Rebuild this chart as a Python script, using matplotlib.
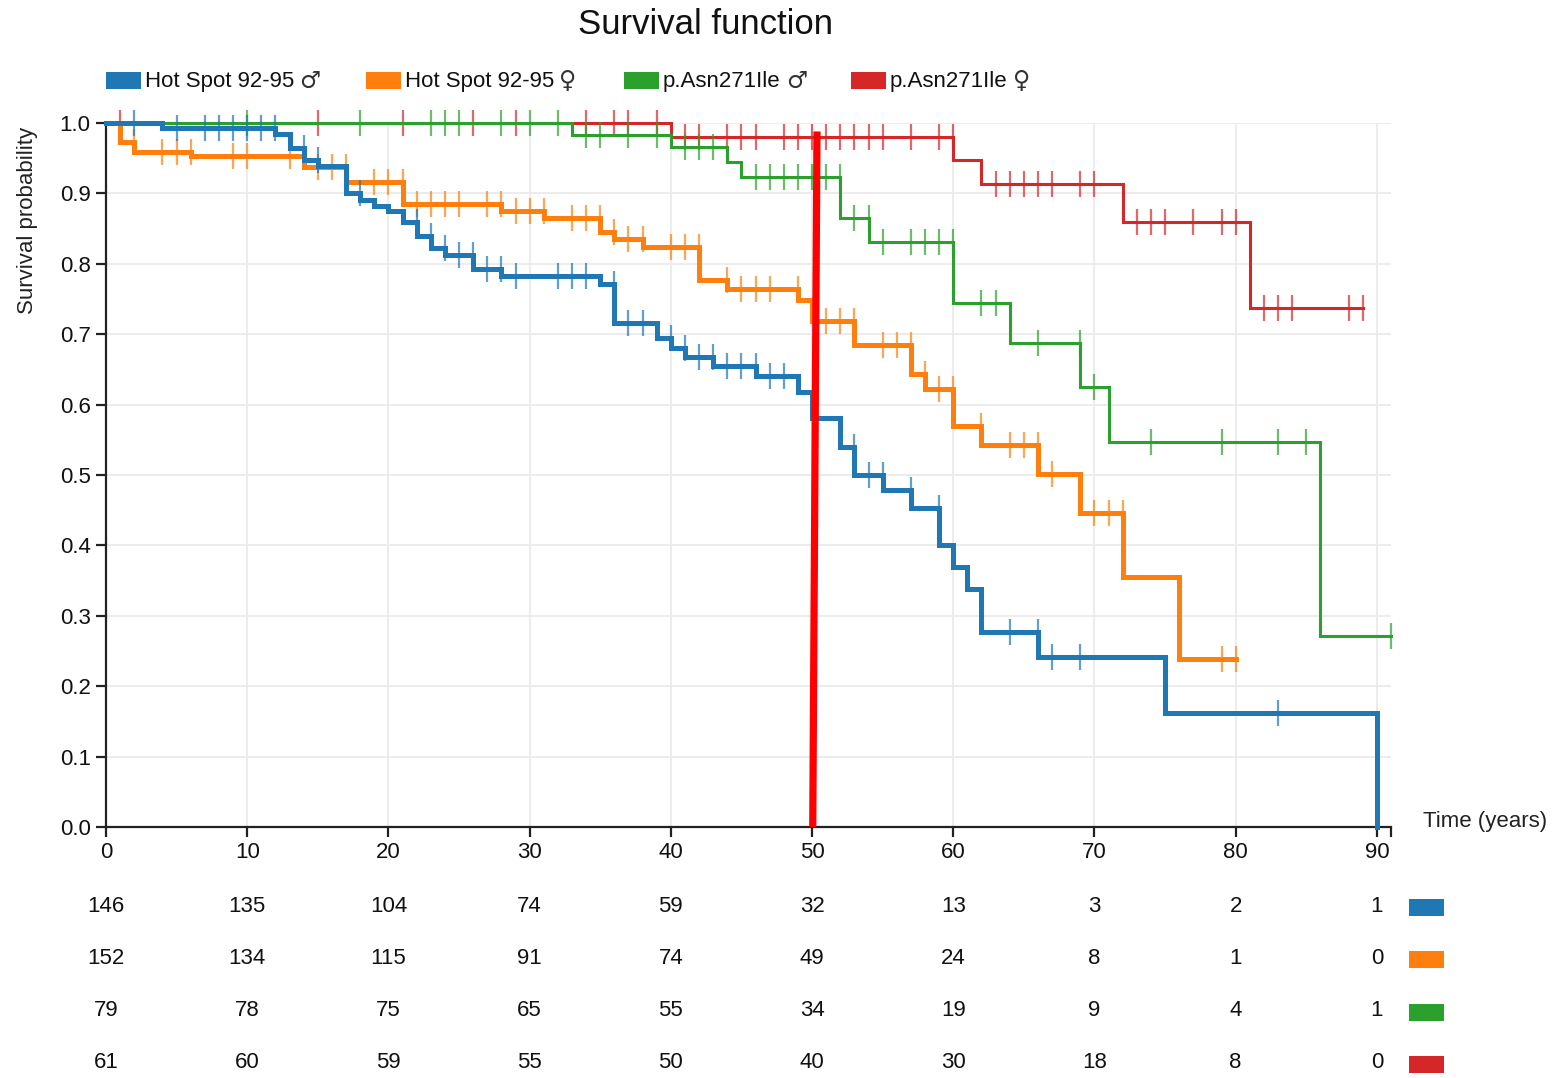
import numpy as np
import matplotlib
matplotlib.use("Agg")
import matplotlib.pyplot as plt
from matplotlib.patches import Rectangle
from matplotlib.transforms import blended_transform_factory

plt.rcParams['font.family'] = ['Liberation Sans', 'DejaVu Sans']

# ---------------- data ----------------
series_labels = ["Hot Spot 92-95 \u2642", "Hot Spot 92-95 \u2640",
                 "p.Asn271Ile \u2642", "p.Asn271Ile \u2640"]
colors = ["#1f77b4", "#ff7f0e", "#2ca02c", "#d62728"]

blue_times = [0, 4, 12, 13, 14, 15, 17, 18, 19, 20, 21, 22, 23, 24, 26, 28, 35, 36, 39, 40,
              41, 43, 46, 49, 50, 52, 53, 55, 57, 59, 60, 61, 62, 66, 75, 90]
blue_surv = [1.0, 0.993, 0.985, 0.964, 0.947, 0.939, 0.900, 0.891, 0.882, 0.875, 0.859,
             0.840, 0.822, 0.8125, 0.793, 0.783, 0.772, 0.7155, 0.694, 0.680, 0.668, 0.655,
             0.640, 0.618, 0.5805, 0.540, 0.500, 0.479, 0.453, 0.400, 0.369, 0.338, 0.2775,
             0.242, 0.1615, 0.0]
blue_censor = [2, 5, 7, 8, 9, 10, 11, 12, 14, 15, 18, 22, 23, 24, 25, 26, 27, 28, 29, 32, 33,
               34, 36, 37, 38, 40, 41, 42, 43, 44, 45, 46, 47, 48, 53, 54, 55, 57, 59, 64, 66,
               67, 69, 83]

orange_times = [0, 1, 2, 6, 14, 17, 21, 28, 31, 35, 36, 38, 42, 44, 49, 50, 53, 57, 58, 60,
                62, 66, 69, 72, 76]
orange_surv = [1.0, 0.9735, 0.959, 0.9536, 0.938, 0.9157, 0.8845, 0.8745, 0.8655, 0.845,
               0.835, 0.8245, 0.777, 0.7635, 0.749, 0.7187, 0.6847, 0.643, 0.6217, 0.5696,
               0.5426, 0.5012, 0.4456, 0.3556, 0.238]
orange_censor = [2, 4, 5, 6, 9, 10, 13, 15, 16, 17, 19, 20, 21, 22, 23, 24, 25, 27, 28, 29,
                 30, 31, 33, 34, 35, 36, 37, 38, 40, 41, 42, 44, 45, 46, 47, 49, 51, 52, 53,
                 55, 56, 57, 58, 59, 60, 62, 64, 65, 66, 67, 70, 71, 72, 79, 80]

green_times = [0, 33, 40, 44, 45, 52, 54, 60, 64, 69, 71, 86]
green_surv = [1.0, 0.983, 0.9655, 0.945, 0.9237, 0.8646, 0.8314, 0.7444, 0.687, 0.6255,
              0.5464, 0.2717]
green_censor = [10, 18, 23, 24, 25, 28, 30, 32, 34, 35, 37, 39, 41, 42, 43, 46, 47, 48, 49,
                50, 51, 52, 53, 54, 55, 57, 58, 59, 60, 62, 63, 66, 69, 70, 74, 79, 83, 85, 91]

red_times = [0, 40, 60, 62, 72, 81]
red_surv = [1.0, 0.980, 0.947, 0.9134, 0.860, 0.7367]
red_censor = [1, 15, 21, 26, 29, 34, 36, 37, 39, 41, 42, 44, 45, 46, 48, 49, 50, 51, 52, 53,
              54, 55, 57, 59, 60, 63, 64, 65, 66, 67, 69, 70, 73, 74, 75, 77, 79, 80, 82, 83,
              84, 88, 89]

risk_times = [0, 10, 20, 30, 40, 50, 60, 70, 80, 90]
risk_blue = [146, 135, 104, 74, 59, 32, 13, 3, 2, 1]
risk_orange = [152, 134, 115, 91, 74, 49, 24, 8, 1, 0]
risk_green = [79, 78, 75, 65, 55, 34, 19, 9, 4, 1]
risk_red = [61, 60, 59, 55, 50, 40, 30, 18, 8, 0]

marker_time = 50

# ---------------- figure ----------------
W, H = 1552, 1078
fig = plt.figure(figsize=(W / 100, H / 100), dpi=100)
ax = fig.add_axes([106 / W, 1 - 827 / H, (1391 - 106) / W, (827 - 123) / H])

ax.set_xlim(0, 91)
ax.set_ylim(0, 1)
ax.set_xticks(risk_times)
ax.set_yticks(np.round(np.arange(0, 1.01, 0.1), 1))
ax.set_yticklabels([f"{v:.1f}" for v in np.arange(0, 1.01, 0.1)])
ax.set_xticks([91], minor=True)
ax.tick_params(axis='x', which='minor', length=7, width=1.6, color='#222222')
ax.tick_params(axis='both', which='major', length=7, width=1.6, color='#222222',
               labelsize=16, labelcolor='#111111')
ax.tick_params(axis='x', pad=4)
ax.tick_params(axis='y', pad=4)
ax.grid(True, color='#ebebeb', linewidth=1.3)
ax.set_axisbelow(True)
for s in ['top', 'right']:
    ax.spines[s].set_visible(False)
for s in ['left', 'bottom']:
    ax.spines[s].set_color('#222222')
    ax.spines[s].set_linewidth(1.6)

all_series = [
    (blue_times, blue_surv, blue_censor, colors[0], 3.6, 4),
    (orange_times, orange_surv, orange_censor, colors[1], 3.6, 3),
    (green_times, green_surv, green_censor, colors[2], 2.2, 2),
    (red_times, red_surv, red_censor, colors[3], 2.2, 1),
]

for times, surv, cens, col, lw, z in all_series:
    times = np.asarray(times, float)
    surv = np.asarray(surv, float)
    cens = np.asarray(cens, float)
    end = max(times[-1], cens.max())
    xs = np.append(times, end)
    ys = np.append(surv, surv[-1])
    ax.step(xs, ys, where='post', color=col, lw=lw, zorder=z,
            solid_joinstyle='miter', clip_on=False)
    idx = np.searchsorted(times, cens, side='left') - 1
    idx = np.clip(idx, 0, len(surv) - 1)
    cy = surv[idx]
    ax.plot(cens, cy, linestyle='none', marker='|', markersize=19, mew=1.6,
            color=col, alpha=0.7, zorder=z + 0.5, clip_on=False)

# red annotation line
ax.plot([marker_time + 0.35, marker_time + 0.05], [0.988, 0.0], color='#ff0000', lw=5.2,
        solid_capstyle='butt', zorder=10, clip_on=False)

# title, axis labels
fig.text(705 / W, 1 - 24 / H, "Survival function", ha='center', va='center',
         fontsize=25, color='#111111')
fig.text(28 / W, 1 - 220 / H, "Survival probability", rotation=90, ha='center',
         va='center', fontsize=16, color='#222222')
fig.text(1423 / W, 1 - 821 / H, "Time (years)", ha='left', va='center', fontsize=16,
         color='#222222')

# legend (label text + gender symbol in a symbol font)
renderer = fig.canvas.get_renderer()
leg_rect_x = [106, 366, 624, 851]
for lab, col, lx in zip(series_labels, colors, leg_rect_x):
    fig.add_artist(Rectangle((lx / W, 1 - 89 / H), 35 / W, 17 / H, facecolor=col,
                             edgecolor='none', transform=fig.transFigure))
    base, sym = lab[:-1], lab[-1]
    t = fig.text((lx + 39) / W, 1 - 81 / H, base.rstrip(), ha='left', va='center',
                 fontsize=16, color='#111111', family=['Liberation Sans'])
    bb = t.get_window_extent(renderer=renderer)
    fig.text((bb.x1 + 5) / W, 1 - 81 / H, sym, ha='left', va='center',
             fontsize=17, color='#333333', family=['DejaVu Sans'])

# number at risk table
trans = blended_transform_factory(ax.transData, fig.transFigure)
row_y = [906, 958, 1011, 1063]
for vals, col, ry in zip([risk_blue, risk_orange, risk_green, risk_red], colors, row_y):
    for t_, v in zip(risk_times, vals):
        ax.text(t_, 1 - ry / H, str(v), transform=trans, ha='center', va='center',
                fontsize=16, color='#111111', clip_on=False)
    fig.add_artist(Rectangle((1409 / W, 1 - (ry + 10) / H), 35 / W, 17 / H, facecolor=col,
                             edgecolor='none', transform=fig.transFigure))

fig.savefig("out.png", dpi=100)
